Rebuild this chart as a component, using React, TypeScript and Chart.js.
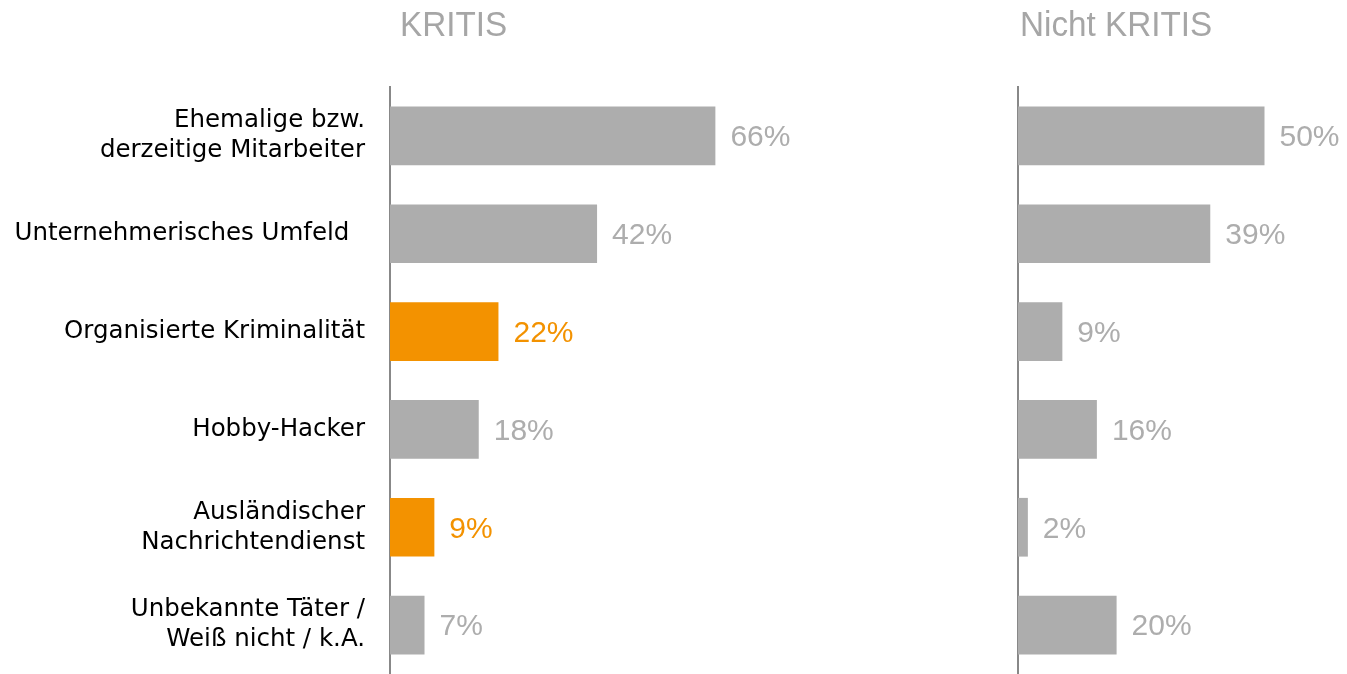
import React, { useEffect, useRef } from "react";
import { Chart, registerables } from "chart.js";

Chart.register(...registerables);

const categories: string[][] = [
  ["Ehemalige bzw.", "derzeitige Mitarbeiter"],
  ["Unternehmerisches Umfeld  "],
  ["Organisierte Kriminalität"],
  ["Hobby-Hacker"],
  ["Ausländischer", "Nachrichtendienst"],
  ["Unbekannte Täter /", "Weiß nicht / k.A."],
];
const kritisValues = [66, 42, 22, 18, 9, 7];
const nichtKritisValues = [50, 39, 9, 16, 2, 20];
const kritisHighlight = [false, false, true, false, true, false];
const nichtKritisHighlight = [false, false, false, false, false, false];
const panelTitles = ["KRITIS", "Nicht KRITIS"];

const GREY = "#adadad";
const ORANGE = "#f39200";
const PX_PER_PCT = 4.93;

function makeChart(
  canvas: HTMLCanvasElement,
  values: number[],
  highlight: boolean[],
  title: string,
  titleOffset: number,
  showLabels: boolean,
  axisLeft: number,
  canvasWidth: number
) {
  const colors = highlight.map((h) => (h ? ORANGE : GREY));
  const areaWidth = canvasWidth - axisLeft;
  const labelPlugin = {
    id: "valueLabels",
    afterDatasetsDraw(chart: any) {
      const ctx = chart.ctx;
      const meta = chart.getDatasetMeta(0);
      const yScale = chart.scales.y;
      ctx.save();
      ctx.font = '30px "Liberation Sans", Arial, sans-serif';
      ctx.textBaseline = "middle";
      ctx.textAlign = "left";
      meta.data.forEach((bar: any, i: number) => {
        ctx.fillStyle = colors[i];
        ctx.fillText(values[i] + "%", bar.x + 15, bar.y + 2);
      });
      if (showLabels) {
        ctx.font = '24.5px "DejaVu Sans", sans-serif';
        ctx.fillStyle = "#000000";
        ctx.textAlign = "right";
        const lh = 30;
        categories.forEach((lines, i) => {
          const cy = yScale.getPixelForTick(i);
          lines.forEach((line, k) => {
            ctx.fillText(line, chart.chartArea.left - 25, cy + (k - (lines.length - 1) / 2) * lh);
          });
        });
      }
      ctx.restore();
      ctx.save();
      ctx.font = '35px "Liberation Sans", Arial, sans-serif';
      ctx.fillStyle = "#a6a6a6";
      ctx.textBaseline = "alphabetic";
      ctx.textAlign = "left";
      ctx.translate(chart.chartArea.left + titleOffset, 36);
      ctx.scale(0.95, 1);
      ctx.fillText(title, 0, 0);
      ctx.restore();
    },
  };
  return new Chart(canvas, {
    type: "bar",
    data: {
      labels: categories,
      datasets: [
        {
          data: values,
          backgroundColor: colors,
          barPercentage: 0.6,
          categoryPercentage: 1,
        },
      ],
    },
    options: {
      indexAxis: "y",
      animation: false,
      responsive: false,
      maintainAspectRatio: false,
      layout: { autoPadding: false, padding: { top: 87, left: 0, right: 0, bottom: 0 } },
      plugins: { legend: { display: false }, tooltip: { enabled: false } },
      scales: {
        x: {
          display: false,
          min: 0,
          max: areaWidth / PX_PER_PCT,
        },
        y: {
          grid: { display: false },
          border: { display: true, color: "#888888", width: 2 },
          ticks: { display: false },
          afterFit(scale: any) {
            scale.width = axisLeft;
          },
        },
      },
    },
    plugins: [labelPlugin],
  });
}

export default function App() {
  const leftRef = useRef<HTMLCanvasElement>(null);
  const rightRef = useRef<HTMLCanvasElement>(null);
  useEffect(() => {
    const c1 = makeChart(leftRef.current!, kritisValues, kritisHighlight, panelTitles[0], 10, true, 390, 883);
    const c2 = makeChart(rightRef.current!, nichtKritisValues, nichtKritisHighlight, panelTitles[1], 2, false, 118, 447);
    return () => {
      c1.destroy();
      c2.destroy();
    };
  }, []);
  return (
    <div style={{ position: "absolute", left: 0, top: 0, width: 1347, height: 674, background: "#fff" }}>
      <canvas ref={leftRef} width={883} height={674} style={{ position: "absolute", left: 0, top: 0 }} />
      <canvas ref={rightRef} width={447} height={674} style={{ position: "absolute", left: 900, top: 0 }} />
    </div>
  );
}
